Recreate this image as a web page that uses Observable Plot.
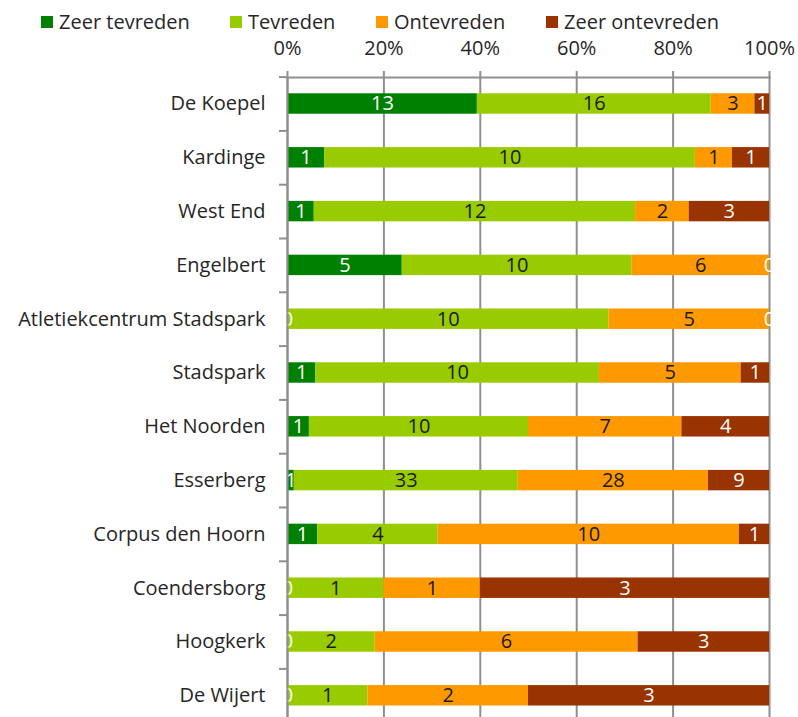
<!DOCTYPE html>
<html>
<head>
<meta charset="utf-8">
<script src="https://cdn.jsdelivr.net/npm/d3@7"></script>
<script src="https://cdn.jsdelivr.net/npm/@observablehq/plot@0.6"></script>
<style>
  html, body { margin: 0; padding: 0; background: #fff; }
  #wrap { position: relative; width: 798px; height: 717px; font-family: "Open Sans", sans-serif; }
  #legend { position: absolute; top: 0; left: 0; width: 798px; height: 40px; }
  .item { position: absolute; top: 9px; display: flex; align-items: center; font-size: 20px; color: #262626; line-height: 26px; }
  .sw { width: 12px; height: 12px; margin-right: 6px; }
  #chart { position: absolute; top: 0; left: 0; }
</style>
</head>
<body>
<div id="wrap">
  <div id="chart"></div>
  <div id="legend"></div>
</div>
<script>
// Data (counts per location and satisfaction category)
const locaties = ["De Koepel", "Kardinge", "West End", "Engelbert", "Atletiekcentrum Stadspark", "Stadspark",
  "Het Noorden", "Esserberg", "Corpus den Hoorn", "Coendersborg", "Hoogkerk", "De Wijert"];
const categorieen = ["Zeer tevreden", "Tevreden", "Ontevreden", "Zeer ontevreden"];
const zeerTevreden   = [13, 1, 1, 5, 0, 1, 1, 1, 1, 0, 0, 0];
const tevreden       = [16, 10, 12, 10, 10, 10, 10, 33, 4, 1, 2, 1];
const ontevreden     = [3, 1, 2, 6, 5, 5, 7, 28, 10, 1, 6, 2];
const zeerOntevreden = [1, 1, 3, 0, 0, 1, 4, 9, 1, 3, 3, 3];
const kleuren = ["#008000", "#99cc00", "#ff9900", "#993300"];
const xTicks = [0, 0.2, 0.4, 0.6, 0.8, 1];
const witteLabels = ["Zeer tevreden", "Zeer ontevreden"];

const reeksen = [zeerTevreden, tevreden, ontevreden, zeerOntevreden];
const data = [];
locaties.forEach((loc, i) => {
  categorieen.forEach((cat, j) => {
    data.push({locatie: loc, categorie: cat, waarde: reeksen[j][i]});
  });
});

const yRange = [76.6, 722.2];
const step = (yRange[1] - yRange[0]) / locaties.length;
const gridColor = "#8f8f8f";
const fs = 20;

const stackOpts = {offset: "normalize", order: categorieen};

const chart = Plot.plot({
  width: 798,
  height: 717,
  marginTop: 77,
  marginLeft: 287,
  marginRight: 29,
  marginBottom: 0,
  style: {fontFamily: "Open Sans, sans-serif", fontSize: fs + "px", color: "#262626", background: "#fff"},
  x: {domain: [0, 1], label: null},
  y: {domain: locaties, range: yRange, paddingInner: 0.62, paddingOuter: 0.31, round: false, label: null},
  color: {domain: categorieen, range: kleuren},
  marks: [
    Plot.ruleX(xTicks, {stroke: gridColor, strokeWidth: 2}),
    Plot.barX(data, Plot.stackX(stackOpts, {y: "locatie", x: "waarde", fill: "categorie", z: "categorie"})),
    Plot.text(data, Plot.stackX(stackOpts, {
      y: "locatie", x: "waarde", z: "categorie",
      text: d => witteLabels.includes(d.categorie) ? String(d.waarde) : "",
      fill: "white", fontSize: fs
    })),
    Plot.text(data, Plot.stackX(stackOpts, {
      y: "locatie", x: "waarde", z: "categorie",
      text: d => witteLabels.includes(d.categorie) ? "" : String(d.waarde),
      fill: "#1a1a1a", fontSize: fs
    })),
    Plot.axisX({anchor: "top", ticks: xTicks, tickFormat: d3.format(".0%"), tickSize: 7, label: null,
      tickPadding: 16, stroke: gridColor, strokeWidth: 2, strokeOpacity: 1, fontSize: fs, fill: "#262626"}),
    Plot.frame({anchor: "top", stroke: gridColor, strokeWidth: 2}),
    Plot.ruleX([0], {stroke: gridColor, strokeWidth: 2}),
    Plot.axisY({anchor: "left", tickSize: 8, text: null, label: null, dy: -step / 2, stroke: gridColor, strokeWidth: 2, strokeOpacity: 1}),
    Plot.axisY({anchor: "left", tickSize: 0, tickPadding: 22, fontSize: fs, fill: "#262626", label: null})
  ]
});
document.getElementById("chart").appendChild(chart);

// Legend
const posities = [41, 230, 376, 546];
const legend = document.getElementById("legend");
categorieen.forEach((cat, j) => {
  const item = document.createElement("div");
  item.className = "item";
  item.style.left = posities[j] + "px";
  const sw = document.createElement("div");
  sw.className = "sw";
  sw.style.background = kleuren[j];
  const t = document.createElement("span");
  t.textContent = cat;
  item.appendChild(sw);
  item.appendChild(t);
  legend.appendChild(item);
});
</script>
</body>
</html>
